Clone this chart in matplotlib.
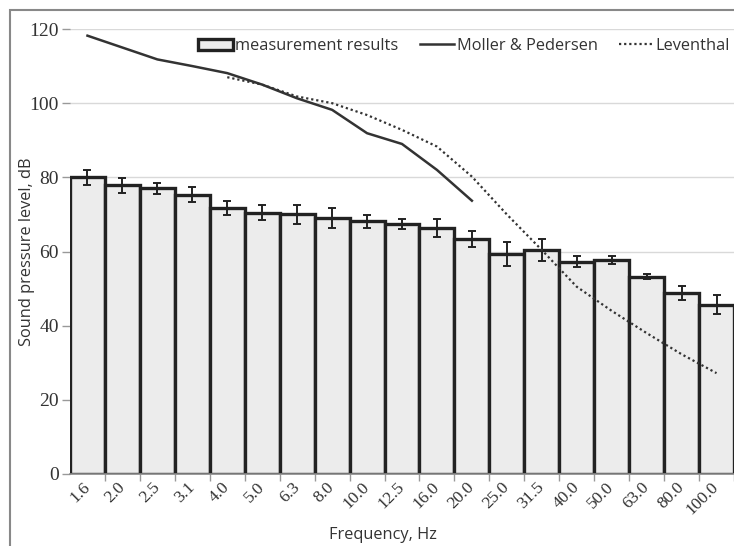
import matplotlib
matplotlib.use("Agg")
import matplotlib.pyplot as plt
from matplotlib.patches import Rectangle
import numpy as np

categories = ["1.6", "2.0", "2.5", "3.1", "4.0", "5.0", "6.3", "8.0", "10.0", "12.5",
              "16.0", "20.0", "25.0", "31.5", "40.0", "50.0", "63.0", "80.0", "100.0"]
measured = [80.0, 77.8, 77.0, 75.3, 71.7, 70.5, 70.0, 69.0, 68.1, 67.4,
            66.4, 63.4, 59.3, 60.4, 57.3, 57.7, 53.2, 48.8, 45.7]
errors = [2.0, 1.9, 1.6, 2.0, 1.9, 2.0, 2.6, 2.6, 1.8, 1.3,
          2.4, 2.2, 3.3, 3.0, 1.4, 1.2, 0.7, 2.0, 2.5]
moller = [118.2, 115.0, 111.8, 110.0, 108.1, 105.0, 101.3, 98.2, 91.9, 89.0, 82.0, 73.7]
leventhal_start = 4
leventhal = [107.0, 105.0, 101.8, 100.0, 96.8, 92.8, 88.3, 80.2, 70.0, 60.4,
             50.5, 44.0, 38.0, 32.3, 27.2]

W, H = 734, 546
fig = plt.figure(figsize=(W / 100, H / 100), dpi=100)
ax = fig.add_axes([70 / W, 1 - 474 / H, 1 - 70 / W, (474 - 29) / H])

x = np.arange(len(categories))
bars = ax.bar(x, measured, width=1.0, color="#ececec", edgecolor="#222222", linewidth=2.4, zorder=2,
              label="measurement results")
ax.errorbar(x, measured, yerr=errors, fmt="none", ecolor="#222222", elinewidth=1.4,
            capsize=3.0, capthick=1.4, zorder=3)
l1, = ax.plot(x[:len(moller)], moller, color="#333333", linewidth=1.8, zorder=4, label="Moller & Pedersen")
xl = np.arange(leventhal_start, leventhal_start + len(leventhal))
l2, = ax.plot(xl, leventhal, color="#333333", linewidth=1.6, linestyle=(0, (1, 1.3)), zorder=4,
              label="Leventhal")

ax.set_xlim(-0.5, (W - 70) / ((703 - 70) / 18) - 0.5)
ax.set_ylim(0, 120)
ax.set_yticks([0, 20, 40, 60, 80, 100, 120])
ax.yaxis.grid(True, color="#d9d9d9", linewidth=1.0, zorder=0)
ax.set_axisbelow(True)

serif = "Liberation Serif"
ax.set_xticks(x)
ax.set_xticklabels(categories, rotation=45, ha="right", va="center", rotation_mode="anchor",
                   fontfamily=serif, fontsize=12.5, color="#333333")
ax.set_xticks(np.arange(len(categories)) + 0.5, minor=True)
ax.tick_params(axis="x", which="major", length=0, pad=8)
ax.tick_params(axis="x", which="minor", length=5, color="#999999", width=1)
for lab in ax.get_yticklabels():
    lab.set_fontfamily(serif)
ax.tick_params(axis="y", length=6, color="#999999", width=1, labelsize=14, labelcolor="#333333", pad=2)

for s in ["top", "right", "left"]:
    ax.spines[s].set_visible(False)
ax.spines["bottom"].set_color("#888888")
ax.spines["bottom"].set_linewidth(1.2)

sans = "Open Sans"
ax.set_ylabel("Sound pressure level, dB", fontfamily=sans, fontsize=11.8, color="#333333")
ax.set_xlabel("Frequency, Hz", fontfamily=sans, fontsize=11.8, color="#333333")
ax.xaxis.set_label_coords((383 - 70) / (W - 70), -(535 - 474) / (474 - 29), transform=ax.transAxes)
ax.yaxis.set_label_coords(-(70 - 27) / (W - 70), 0.5, transform=ax.transAxes)
ax.xaxis.label.set_va("center")
ax.yaxis.label.set_va("center")

leg = ax.legend(handles=[bars, l1, l2], loc="center right", bbox_to_anchor=(740 / W, 1 - 46 / H),
                bbox_transform=fig.transFigure, ncol=3, frameon=False,
                prop={"family": sans, "size": 11.8}, handlelength=2.1,
                handletextpad=0.15, columnspacing=1.3, labelcolor="#333333", borderpad=0.1)

fig.patches.append(Rectangle((10 / W, -0.1), 1.2, 1.1 - 10 / H, transform=fig.transFigure,
                             fill=False, edgecolor="#888888", linewidth=1.5))

fig.savefig("out.png", dpi=100)
